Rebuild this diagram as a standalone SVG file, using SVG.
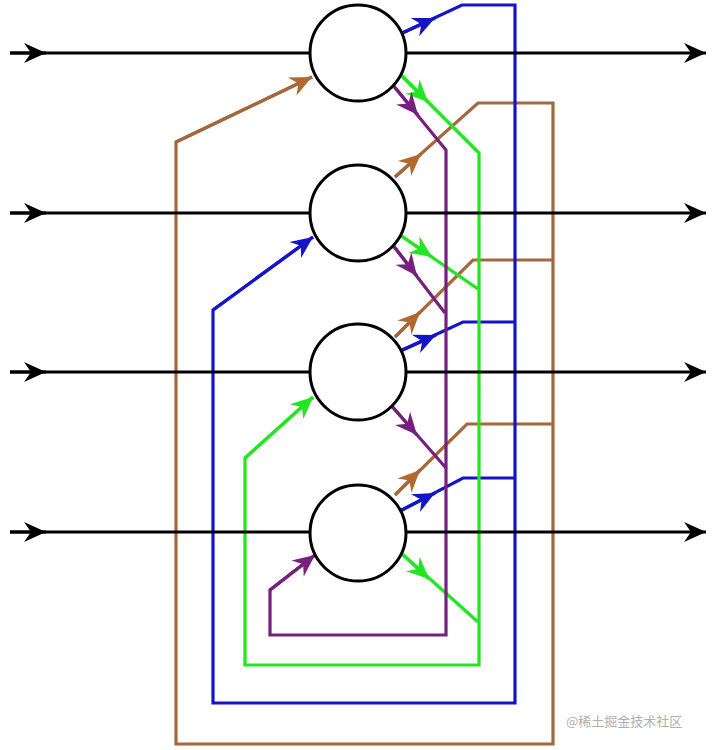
<svg xmlns="http://www.w3.org/2000/svg" width="720" height="750" viewBox="0 0 720 750">
<style>
.k{stroke:#000;stroke-width:3;fill:none}
.b{stroke:#1414c8;stroke-width:3.2;fill:none}
.g{stroke:#22e622;stroke-width:3.2;fill:none}
.p{stroke:#75207c;stroke-width:3.2;fill:none}
.r{stroke:#a4683c;stroke-width:3.2;fill:none}
.node{fill:#fff;stroke:#000;stroke-width:3}
.wm{font-family:"Noto Sans CJK SC","Liberation Sans",sans-serif;font-size:13px;fill:#b0b0b0}
</style>
<defs>
<marker id="ak" markerUnits="userSpaceOnUse" markerWidth="30" markerHeight="30" viewBox="-26 -13 30 26" refX="0" refY="0" orient="auto"><path d="M0,0 L-22,-10 L-15,0 L-22,10 z" fill="#000"/></marker>
<marker id="ab" markerUnits="userSpaceOnUse" markerWidth="30" markerHeight="30" viewBox="-26 -13 30 26" refX="0" refY="0" orient="auto"><path d="M0,0 L-22,-10 L-15,0 L-22,10 z" fill="#1414c8"/></marker>
<marker id="ag" markerUnits="userSpaceOnUse" markerWidth="30" markerHeight="30" viewBox="-26 -13 30 26" refX="0" refY="0" orient="auto"><path d="M0,0 L-22,-10 L-15,0 L-22,10 z" fill="#22e622"/></marker>
<marker id="ap" markerUnits="userSpaceOnUse" markerWidth="30" markerHeight="30" viewBox="-26 -13 30 26" refX="0" refY="0" orient="auto"><path d="M0,0 L-22,-10 L-15,0 L-22,10 z" fill="#75207c"/></marker>
<marker id="ar" markerUnits="userSpaceOnUse" markerWidth="30" markerHeight="30" viewBox="-26 -13 30 26" refX="0" refY="0" orient="auto"><path d="M0,0 L-22,-10 L-15,0 L-22,10 z" fill="#b06a30"/></marker>
</defs>
<rect width="720" height="750" fill="#fff"/>
<g id="connectors">
  <path class="r" d="M395,177 L478,103 L553,103 L553,744 L176,744 L176,142 L312,77"/>
  <path class="r" d="M395,337 L473,260 L553,260"/>
  <path class="r" d="M395,495 L467,424 L553,424"/>
  <path class="r" d="M176,142 L312,77" marker-end="url(#ar)"/>
  <path class="r" d="M395,177 L421,154" marker-end="url(#ar)"/>
  <path class="r" d="M395,337 L420,312" marker-end="url(#ar)"/>
  <path class="r" d="M395,495 L420,470" marker-end="url(#ar)"/>
  <path class="b" d="M398,35 L462,5 L515,5 L515,703 L213,703 L213,310 L313,237"/>
  <path class="b" d="M398,352 L463,322 L515,322"/>
  <path class="b" d="M398,512 L463,478 L515,478"/>
  <path class="b" d="M213,310 L313,237" marker-end="url(#ab)"/>
  <path class="b" d="M398,35 L435,18" marker-end="url(#ab)"/>
  <path class="b" d="M398,352 L436,335" marker-end="url(#ab)"/>
  <path class="b" d="M398,512 L435,493" marker-end="url(#ab)"/>
  <path class="g" d="M398,72 L479,153 L479,665 L245,665 L245,458 L313,397"/>
  <path class="g" d="M400,235 L478,289"/>
  <path class="g" d="M400,552 L478,622"/>
  <path class="g" d="M245,458 L313,397" marker-end="url(#ag)"/>
  <path class="g" d="M398,72 L428,102" marker-end="url(#ag)"/>
  <path class="g" d="M400,235 L432,257" marker-end="url(#ag)"/>
  <path class="g" d="M400,552 L429,579" marker-end="url(#ag)"/>
  <path class="p" d="M392,84 L446,150 L446,635 L270,635 L270,590 L315,555"/>
  <path class="p" d="M392,244 L445,313"/>
  <path class="p" d="M390,404 L446,468"/>
  <path class="p" d="M270,590 L315,555" marker-end="url(#ap)"/>
  <path class="p" d="M392,84 L418,115" marker-end="url(#ap)"/>
  <path class="p" d="M392,244 L417,276" marker-end="url(#ap)"/>
  <path class="p" d="M390,404 L417,435" marker-end="url(#ap)"/>
  <path class="k" d="M10,53 L706,53" marker-end="url(#ak)"/>
  <path class="k" d="M10,53 L46,53" marker-end="url(#ak)"/>
  <path class="k" d="M10,213 L706,213" marker-end="url(#ak)"/>
  <path class="k" d="M10,213 L46,213" marker-end="url(#ak)"/>
  <path class="k" d="M10,372 L706,372" marker-end="url(#ak)"/>
  <path class="k" d="M10,372 L46,372" marker-end="url(#ak)"/>
  <path class="k" d="M10,532 L706,532" marker-end="url(#ak)"/>
  <path class="k" d="M10,532 L46,532" marker-end="url(#ak)"/>
</g>
<g id="n1"><circle class="node" cx="358" cy="53" r="48"/></g>
<g id="n2"><circle class="node" cx="358" cy="213" r="48"/></g>
<g id="n3"><circle class="node" cx="358" cy="372" r="48"/></g>
<g id="n4"><circle class="node" cx="358" cy="533" r="48"/></g>
<text class="wm" x="566" y="726">@稀土掘金技术社区</text>
</svg>
